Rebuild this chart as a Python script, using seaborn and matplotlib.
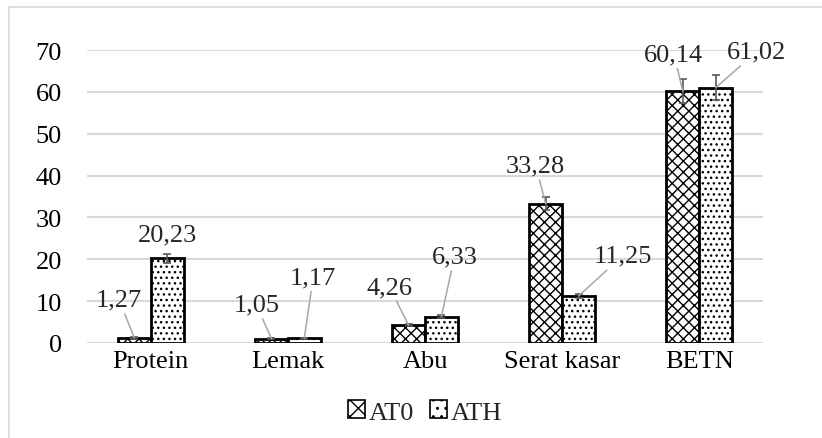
import numpy as np
import pandas as pd
import seaborn as sns
import matplotlib.pyplot as plt
from matplotlib.patches import Rectangle

# data
categories = ['Protein', 'Lemak', 'Abu', 'Serat kasar', 'BETN']
groups = ['AT0', 'ATH']
at0 = [1.27, 1.05, 4.26, 33.28, 60.14]
ath = [20.23, 1.17, 6.33, 11.25, 61.02]
at0_err = [0.2, 0.1, 0.3, 1.6, 2.9]
ath_err = [1.0, 0.1, 0.3, 0.4, 2.9]
labels_at0 = ['1,27', '1,05', '4,26', '33,28', '60,14']
labels_ath = ['20,23', '1,17', '6,33', '11,25', '61,02']

# label offsets (pixels) from bar top, like the Excel leader-lines
off_at0 = [(-15, 38), (-15, 34), (-19, 38), (-10, 38), (-9, 37)]
off_ath = [(0, 24), (9, 61), (13, 60), (44, 40), (41, 36)]
leader_ath = [False, True, True, True, True]

df = pd.DataFrame({'cat': categories * 2,
                   'grp': ['AT0'] * 5 + ['ATH'] * 5,
                   'val': at0 + ath})

sns.set_style('white')
plt.rcParams['font.family'] = ['Liberation Serif', 'DejaVu Serif']
plt.rcParams['hatch.linewidth'] = 1.0
fs = 19

fig = plt.figure(figsize=(8.22, 4.39), dpi=100)
ax = fig.add_axes([87/822, 1 - 344/439, (763 - 87)/822, (344 - 51)/439])

sns.barplot(data=df, x='cat', y='val', hue='grp', order=categories, hue_order=groups,
            palette=['white', 'white'], edgecolor='black', linewidth=2,
            width=0.48, errorbar=None, legend=False, ax=ax, zorder=3)

hatches = {'AT0': 'xxx', 'ATH': '...'}
for cont, g in zip(ax.containers, groups):
    for p in cont:
        p.set_hatch(hatches[g])

ax.set_ylim(0, 70)
ax.set_yticks(range(0, 71, 10))
ax.yaxis.grid(True, color='#d9d9d9', linewidth=1.5, zorder=0)
ax.set_axisbelow(True)
ax.set_xlabel('')
ax.set_ylabel('')
ax.tick_params(axis='both', length=0, labelsize=fs, colors='black')
ax.tick_params(axis='y', pad=18)
ax.tick_params(axis='x', pad=5)
sns.despine(ax=ax, left=True, bottom=True)

for cont, vals, errs, labs, offs, lead in [
        (ax.containers[0], at0, at0_err, labels_at0, off_at0, [True] * 5),
        (ax.containers[1], ath, ath_err, labels_ath, off_ath, leader_ath)]:
    xs = [p.get_x() + p.get_width() / 2 for p in cont]
    ax.errorbar(xs, vals, yerr=errs, fmt='none', ecolor='#595959',
                elinewidth=1.2, capsize=3, capthick=1.2, zorder=4)
    for x, v, lab, o, ld in zip(xs, vals, labs, offs, lead):
        ap = dict(arrowstyle='-', color='#a6a6a6', lw=1.1, shrinkA=0, shrinkB=0) if ld else None
        ax.annotate(lab, xy=(x, v), xytext=o, textcoords='offset pixels',
                    ha='center', va='center', fontsize=fs, arrowprops=ap,
                    annotation_clip=False, zorder=5)

# legend
leg_hatch = {'AT0': 'xx', 'ATH': '..'}
handles = [Rectangle((0, 0), 1, 1, facecolor='white', edgecolor='black', hatch=leg_hatch[g], lw=1.2)
           for g in groups]
fig.legend(handles, groups, loc='center', bbox_to_anchor=(425/822, 1 - 413/439), ncol=2,
           frameon=False, fontsize=fs, handlelength=0.65, handleheight=0.65,
           handletextpad=0.15, columnspacing=0.6, borderpad=0)

# chart area border (left and top visible)
fig.patches.append(Rectangle((9/822, -0.1), 1.2, 1 - 8/439 + 0.1, transform=fig.transFigure,
                             fill=False, edgecolor='#d9d9d9', lw=1.2))

fig.savefig('out.png', dpi=100, facecolor='white')
